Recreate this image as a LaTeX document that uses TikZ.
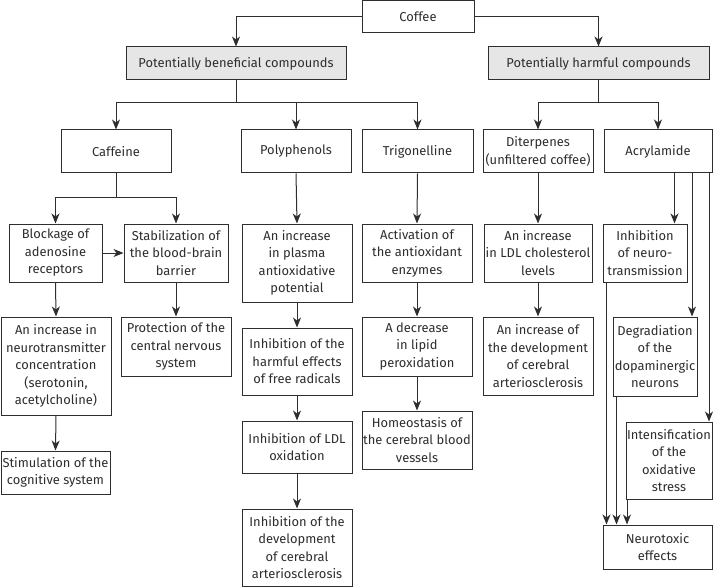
\documentclass[tikz,border=0pt]{standalone}
\usepackage{fontspec}
\setmainfont{Fira Sans}
\usetikzlibrary{arrows.meta}
\definecolor{ink}{HTML}{2E2E2E}
\definecolor{shade}{HTML}{E6E6E6}

\newcommand{\boxat}[7][] % style, name, left, top, right, bottom in px, text
{
	% size from the corners
	\pgfmathsetmacro{\boxw}{#5-#3}
	\pgfmathsetmacro{\boxh}{#6-#4}
	% box at the centre
	\node[box, #1, minimum width=\boxw pt, minimum height=\boxh pt] (#2) at ({(#3+#5)/2},{(#4+#6)/2}) {#7};
}

\begin{document}
\begin{tikzpicture}[x=1pt, y=-1pt,
	box/.style={draw=ink, line width=1pt, fill=white, text=ink, align=center, inner sep=0.5pt, font=\fontsize{12.9}{17.5}\selectfont},
	group/.style={fill=shade},
	link/.style={draw=ink, line width=1pt},
	arr/.style={link, -{Stealth[length=10pt, width=8pt, inset=3pt]}}]
	% page: 714px x 588px, 1px = 1pt
	\useasboundingbox (0,0) rectangle (714,588);
	
	% top levels
	\boxat{coffee}{362}{1}{474}{33}{Coffee}
	\boxat[group]{benef}{126}{47}{346}{80}{Potentially beneficial compounds}
	\boxat[group]{harm}{488}{47}{709}{80}{Potentially harmful compounds}
	
	% compounds
	\boxat{caff}{61}{130}{171}{173}{Caffeine}
	\boxat{poly}{241}{130}{351}{173}{Polyphenols}
	\boxat{trig}{362}{130}{473}{173}{Trigonelline}
	\boxat{diter}{483}{130}{593}{173}{Diterpenes\\(unfiltered coffee)}
	\boxat{acryl}{604}{130}{712}{173}{Acrylamide}
	
	% caffeine
	\boxat{block}{9}{224}{102}{282}{Blockage of\\adenosine\\receptors}
	\boxat{stab}{124}{224}{228}{282}{Stabilization of\\the blood-brain\\barrier}
	\boxat{neurot}{1}{317}{111}{415}{An increase in\\neurotransmitter\\concentration\\(serotonin,\\acetylcholine)}
	\boxat{prot}{121}{317}{231}{376}{Protection of the\\central nervous\\system}
	\boxat{stim}{1}{451}{110}{494}{Stimulation of the\\cognitive system}
	
	% polyphenols
	\boxat{plasma}{242}{224}{352}{302}{An increase\\in plasma\\antioxidative\\potential}
	\boxat{radic}{242}{328}{352}{395}{Inhibition of the\\harmful effects\\of free radicals}
	\boxat{ldlox}{242}{421}{352}{473}{Inhibition of LDL\\oxidation}
	\boxat{devel}{242}{509}{352}{586}{Inhibition of the\\development\\of cerebral\\arteriosclerosis}
	
	% trigonelline
	\boxat{activ}{362}{224}{472}{282}{Activation of\\the antioxidant\\enzymes}
	\boxat{lipid}{362}{317}{472}{376}{A decrease\\in lipid\\peroxidation}
	\boxat{homeo}{362}{411}{472}{469}{Homeostasis of\\the cerebral blood\\vessels}
	
	% diterpenes
	\boxat{chol}{484}{224}{592}{282}{An increase\\in LDL cholesterol\\levels}
	\boxat{scler}{483}{317}{593}{395}{An increase of\\the development\\of cerebral\\arteriosclerosis}
	
	% acrylamide
	\boxat{transm}{603}{224}{687}{282}{Inhibition\\of neuro-\\transmission}
	\boxat{dopa}{613}{317}{697}{396}{Degradiation\\of the\\dopaminergic\\neurons}
	\boxat{oxid}{626}{422}{712}{499}{Intensification\\of the\\oxidative\\stress}
	\boxat{neurotox}{603}{525}{712}{569}{Neurotoxic\\effects}
	
	% coffee to groups
	\draw[arr] (coffee.west) -| (benef.north);
	\draw[arr] (coffee.east) -| (harm.north);
	
	% groups to compounds
	\coordinate (bsplit) at ([yshift=-22pt]benef.south);
	\draw[link] (benef.south) -- (bsplit);
	\draw[arr] (bsplit) -| (caff.north);
	\draw[arr] (bsplit) -| (poly.north);
	\draw[arr] (bsplit) -| (trig.north);
	\coordinate (hsplit) at ([yshift=-22pt]harm.south);
	\draw[link] (harm.south) -- (hsplit);
	\draw[arr] (hsplit) -| (diter.north);
	\draw[arr] (hsplit) -| (acryl.north);
	
	% caffeine chain
	\coordinate (csplit) at ([yshift=-24pt]caff.south);
	\draw[link] (caff.south) -- (csplit);
	\draw[arr] (csplit) -| (block.north);
	\draw[arr] (csplit) -| (stab.north);
	\draw[arr] (block.east) -- (stab.west);
	\draw[arr] (block.south) -- (neurot.north);
	\draw[arr] (neurot.south) -- (stim.north);
	\draw[arr] (stab.south) -- (prot.north);
	
	% polyphenols chain
	\draw[arr] (poly.south) -- (plasma.north);
	\draw[arr] (plasma.south) -- (radic.north);
	\draw[arr] (radic.south) -- (ldlox.north);
	\draw[arr] (ldlox.south) -- (devel.north);
	
	% trigonelline chain
	\draw[arr] (trig.south) -- (activ.north);
	\draw[arr] (activ.south) -- (lipid.north);
	\draw[arr] (lipid.south) -- (homeo.north);
	
	% diterpenes chain
	\draw[arr] (diter.south) -- (chol.north);
	\draw[arr] (chol.south) -- (scler.north);
	
	% acrylamide: three lines down the right side
	\coordinate (a1) at ([xshift=16.5pt]acryl.south);
	\coordinate (a2) at ([xshift=34pt]acryl.south);
	\coordinate (a3) at ([xshift=51pt]acryl.south);
	\draw[arr] (a1) -- (a1 |- transm.north);
	\draw[arr] (a2) -- (a2 |- dopa.north);
	\draw[arr] (a3) -- (a3 |- oxid.north);
	
	% all three into neurotoxic effects
	\coordinate (n1) at ([xshift=4pt]transm.south west);
	\coordinate (n2) at ([xshift=4pt]dopa.south west);
	\coordinate (n3) at ([xshift=1.5pt]oxid.south west);
	\draw[arr] (n1) -- (n1 |- neurotox.north);
	\draw[arr] (n2) -- (n2 |- neurotox.north);
	\draw[arr] (n3) -- (n3 |- neurotox.north);
\end{tikzpicture}
\end{document}
